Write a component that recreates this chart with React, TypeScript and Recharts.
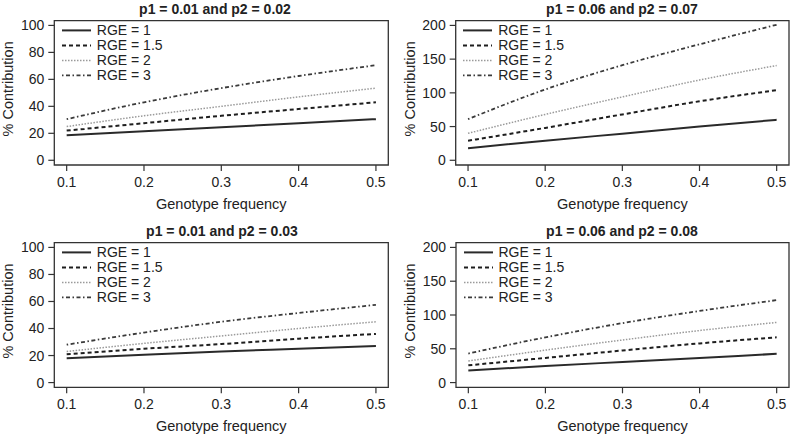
import React from 'react';
import { LineChart, Line, XAxis, YAxis, ReferenceArea, Legend } from 'recharts';

// ---- data ----
const genotypeFreq = [0.1, 0.2, 0.3, 0.4, 0.5];
const xTicks = [0.1, 0.2, 0.3, 0.4, 0.5];
const yTicks100 = [0, 20, 40, 60, 80, 100];
const yTicks200 = [0, 50, 100, 150, 200];
const rgeLabels = ['RGE = 1', 'RGE = 1.5', 'RGE = 2', 'RGE = 3'];
const panelTitles = [
  'p1 = 0.01 and p2 = 0.02',
  'p1 = 0.06 and p2 = 0.07',
  'p1 = 0.01 and p2 = 0.03',
  'p1 = 0.06 and p2 = 0.08',
];
const xAxisTitle = 'Genotype frequency';
const yAxisTitle = '% Contribution';

// panel A: p1 = 0.01, p2 = 0.02
const a_rge1 = [18.5, 21.5, 24.5, 27.5, 30.5];
const a_rge15 = [22, 27.5, 33, 38, 43];
const a_rge2 = [25, 33, 40, 47, 53.5];
const a_rge3 = [30.5, 43, 53.5, 62.5, 70.5];
// panel B: p1 = 0.06, p2 = 0.07
const b_rge1 = [18, 29, 39.5, 50, 60];
const b_rge15 = [29, 48, 68, 87.5, 104];
const b_rge2 = [40, 68, 94, 119, 140.5];
const b_rge3 = [61, 105, 141, 172, 201];
// panel C: p1 = 0.01, p2 = 0.03
const c_rge1 = [18, 20.5, 23, 25, 27];
const c_rge15 = [21, 25, 28.5, 32.5, 36];
const c_rge2 = [23, 29, 34.5, 40, 45];
const c_rge3 = [28, 37, 45, 51.5, 57.5];
// panel D: p1 = 0.06, p2 = 0.08
const d_rge1 = [18, 24.5, 30.5, 36.5, 42.5];
const d_rge15 = [25.5, 36.5, 47.5, 58, 67];
const d_rge2 = [32, 48, 63, 77, 89];
const d_rge3 = [43, 67, 88, 106, 122];

// ---- styles / layout ----
const FONT = '"Liberation Sans", Arial, Helvetica, sans-serif';
const TEXT = '#222';
const seriesKeys = ['r1', 'r15', 'r2', 'r3'];
const seriesStyles = [
  { stroke: '#2a2a2a', width: 2, dash: undefined as string | undefined },
  { stroke: '#1e1e1e', width: 2, dash: '4 3' },
  { stroke: '#9a9a9a', width: 1.5, dash: '1.5 1.5' },
  { stroke: '#3a3a3a', width: 1.8, dash: '1.5 2.5 4 2.5' },
];
const X_DOMAIN: [number, number] = [0.084, 0.516];

type Panel = {
  title: string;
  titleX: number;
  chartLeft: number;
  chartTop: number;
  boxLeft: number;
  boxRight: number;
  boxTop: number;
  boxBottom: number;
  yDomain: [number, number];
  yTicks: number[];
  series: number[][];
};

const panels: Panel[] = [
  { title: panelTitles[0], titleX: 215, chartLeft: 0, chartTop: 0, boxLeft: 54.3, boxRight: 388.3, boxTop: 20.7, boxBottom: 165, yDomain: [-3.5, 103.5], yTicks: yTicks100, series: [a_rge1, a_rge15, a_rge2, a_rge3] },
  { title: panelTitles[1], titleX: 622, chartLeft: 395, chartTop: 0, boxLeft: 455.7, boxRight: 789, boxTop: 20.7, boxBottom: 165, yDomain: [-7, 207], yTicks: yTicks200, series: [b_rge1, b_rge15, b_rge2, b_rge3] },
  { title: panelTitles[2], titleX: 222, chartLeft: 0, chartTop: 222, boxLeft: 54.3, boxRight: 388.3, boxTop: 242.7, boxBottom: 387.3, yDomain: [-3.5, 103.5], yTicks: yTicks100, series: [c_rge1, c_rge15, c_rge2, c_rge3] },
  { title: panelTitles[3], titleX: 622, chartLeft: 395, chartTop: 222, boxLeft: 456, boxRight: 789, boxTop: 242.7, boxBottom: 387.3, yDomain: [-7, 207], yTicks: yTicks200, series: [d_rge1, d_rge15, d_rge2, d_rge3] },
];

const CHART_W = 395;
const CHART_H = 213;

const LegendBox = () => (
  <div style={{ fontFamily: FONT, fontSize: 14, color: TEXT }}>
    {rgeLabels.map((lab, i) => (
      <div key={lab} style={{ display: 'flex', alignItems: 'center', height: 14.8, lineHeight: '14.8px' }}>
        <svg width={29} height={14.8} style={{ display: 'block' }}>
          <line
            x1={0}
            x2={29}
            y1={7.4}
            y2={7.4}
            stroke={seriesStyles[i].stroke}
            strokeWidth={seriesStyles[i].width}
            strokeDasharray={seriesStyles[i].dash}
          />
        </svg>
        <span style={{ marginLeft: 6, whiteSpace: 'nowrap' }}>{lab}</span>
      </div>
    ))}
  </div>
);

const PanelChart = ({ p }: { p: Panel }) => {
  const rows = genotypeFreq.map((x, i) => ({
    x,
    r1: p.series[0][i],
    r15: p.series[1][i],
    r2: p.series[2][i],
    r3: p.series[3][i],
  }));
  const marginTop = p.boxTop - p.chartTop;
  const marginRight = p.chartLeft + CHART_W - p.boxRight;
  const yAxisW = p.boxLeft - p.chartLeft;
  const xAxisH = CHART_H - (p.boxBottom - p.chartTop);
  const tickStyle = { fontSize: 14, fill: TEXT, fontFamily: FONT };
  return (
    <div style={{ position: 'absolute', left: p.chartLeft, top: p.chartTop }}>
      <LineChart width={CHART_W} height={CHART_H} data={rows} margin={{ top: marginTop, right: marginRight, bottom: 0, left: 0 }}>
        <XAxis
          type="number"
          dataKey="x"
          domain={X_DOMAIN}
          allowDataOverflow
          ticks={xTicks}
          tickFormatter={(v: number) => v.toFixed(1)}
          axisLine={false}
          tickLine={{ stroke: '#333', strokeWidth: 1.2 }}
          tickSize={6}
          tickMargin={6}
          height={xAxisH}
          tick={tickStyle}
          interval={0}
        />
        <YAxis
          type="number"
          domain={p.yDomain}
          allowDataOverflow
          ticks={p.yTicks}
          axisLine={false}
          tickLine={{ stroke: '#333', strokeWidth: 1.2 }}
          tickSize={6}
          tickMargin={4}
          width={yAxisW}
          tick={tickStyle}
          interval={0}
        />
        <ReferenceArea
          x1={X_DOMAIN[0]}
          x2={X_DOMAIN[1]}
          y1={p.yDomain[0]}
          y2={p.yDomain[1]}
          fill="none"
          fillOpacity={0}
          stroke="#333"
          strokeWidth={1.3}
          ifOverflow="visible"
        />
        {seriesKeys.map((k, i) => (
          <Line
            key={k}
            dataKey={k}
            name={rgeLabels[i]}
            type="monotone"
            stroke={seriesStyles[i].stroke}
            strokeWidth={seriesStyles[i].width}
            strokeDasharray={seriesStyles[i].dash}
            dot={false}
            activeDot={false}
            isAnimationActive={false}
          />
        ))}
        <Legend
          layout="vertical"
          align="center"
          verticalAlign="middle"
          content={() => <LegendBox />}
          wrapperStyle={{ left: p.boxLeft - p.chartLeft + 7.5, top: marginTop + 2.6, width: 'auto' }}
        />
      </LineChart>
    </div>
  );
};

export default function App() {
  return (
    <div style={{ position: 'absolute', left: 0, top: 0, width: 790, height: 435, background: '#fff', fontFamily: FONT }}>
      {panels.map((p) => (
        <PanelChart key={p.title} p={p} />
      ))}
      <svg width={790} height={435} style={{ position: 'absolute', left: 0, top: 0, pointerEvents: 'none' }}>
        {panels.map((p) => {
          const cx = (p.boxLeft + p.boxRight) / 2;
          const cy = (p.boxTop + p.boxBottom) / 2 - 4;
          return (
            <g key={p.title} fontFamily={FONT} fill={TEXT}>
              <text x={p.titleX} y={p.boxTop - 12 + 5} textAnchor="middle" fontSize={14} fontWeight="bold">
                {p.title}
              </text>
              <text x={cx} y={p.boxBottom + 38.8 + 5} textAnchor="middle" fontSize={14.5}>
                {xAxisTitle}
              </text>
              <text transform={`translate(${p.boxLeft - 46},${cy}) rotate(-90)`} y={5} textAnchor="middle" fontSize={14.5}>
                {yAxisTitle}
              </text>
            </g>
          );
        })}
      </svg>
    </div>
  );
}
